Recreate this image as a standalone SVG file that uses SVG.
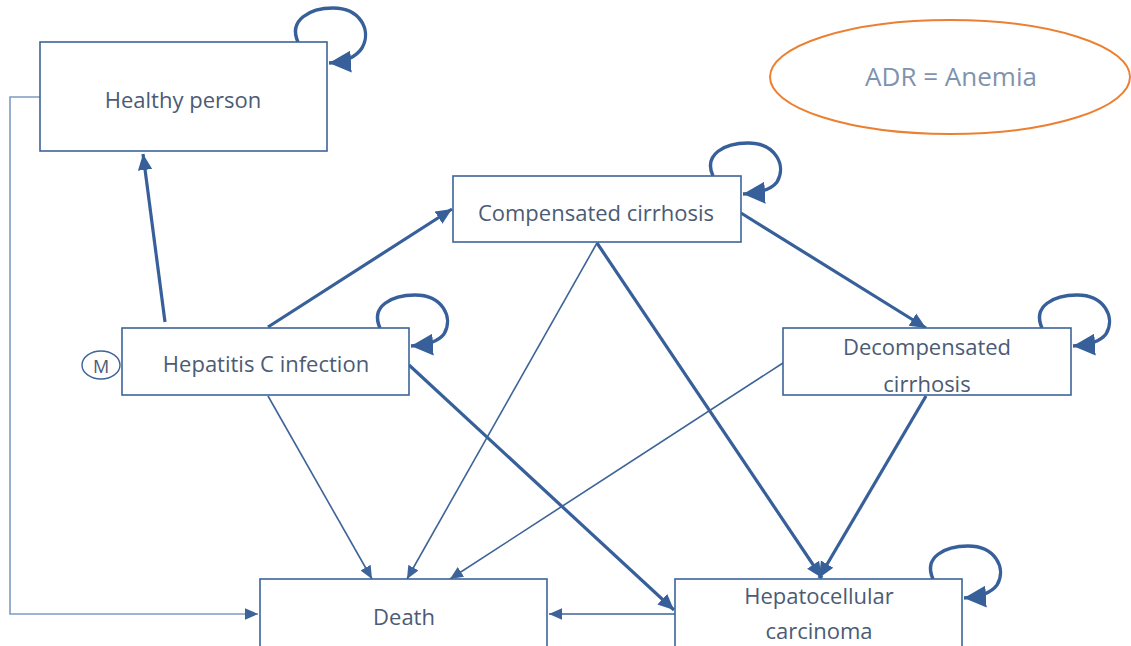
<svg xmlns="http://www.w3.org/2000/svg" width="1131" height="646" viewBox="0 0 1131 646">
<defs>
<style>
.box{fill:#fff;stroke:#3d6399;stroke-width:1.6}
.t{font-family:"Open Sans","Liberation Sans",sans-serif;font-size:22px;fill:#4b5b74;text-anchor:middle}
.thick{fill:none;stroke:#37609a;stroke-width:3.2}
.thin{fill:none;stroke:#3d6399;stroke-width:1.6}
.side{fill:none;stroke:#7f9bc0;stroke-width:1.6}
.loop{fill:none;stroke:#37609a;stroke-width:3.4}
</style>
<marker id="ah" markerUnits="userSpaceOnUse" viewBox="0 0 10 10" refX="10" refY="5" markerWidth="16" markerHeight="16" orient="auto"><path d="M0,0.5 L10,5 L0,9.5 z" fill="#37609a"/></marker>
<marker id="as" markerUnits="userSpaceOnUse" viewBox="0 0 10 10" refX="10" refY="5" markerWidth="13" markerHeight="13" orient="auto"><path d="M0,0.5 L10,5 L0,9.5 z" fill="#3d6399"/></marker>
<marker id="al" markerUnits="userSpaceOnUse" viewBox="0 0 10 10" refX="10" refY="5" markerWidth="22" markerHeight="22" orient="auto"><path d="M0,0 L10,5 L0,10 z" fill="#37609a"/></marker>
</defs>
<rect width="1131" height="646" fill="#fff"/>

<g id="connectors">
<path class="side" d="M40,97 H10 V614 H258" marker-end="url(#as)"/>
<path class="thick" d="M165,322 L143,154" marker-end="url(#ah)"/>
<path class="thick" d="M268,327 L452,209" marker-end="url(#ah)"/>
<path class="thin" d="M268,396 L372,579" marker-end="url(#as)"/>
<path class="thick" d="M409,365 L674,610" marker-end="url(#ah)"/>
<path class="thin" d="M597,243 L407,579" marker-end="url(#as)"/>
<path class="thick" d="M597,243 L822,578" marker-end="url(#ah)"/>
<path class="thick" d="M741,213 L926,328" marker-end="url(#ah)"/>
<path class="thin" d="M783,363 L450,579" marker-end="url(#as)"/>
<path class="thick" d="M926,396 L819,578" marker-end="url(#ah)"/>
<path class="thin" d="M675,614 L549,614" marker-end="url(#as)"/>
<path class="loop" d="M298,42 C288,20 310,8 333,8 C360,8 372,30 362,48 C356,57 345,62 329,63" marker-end="url(#al)"/>
<path class="loop" d="M380,328 C370,306 392,295 415,295 C442,295 454,317 444,334 C438,342 427,345 411,346" marker-end="url(#al)"/>
<path class="loop" d="M713,176 C703,154 725,143 748,143 C775,143 787,165 777,182 C771,190 760,193 743,194" marker-end="url(#al)"/>
<path class="loop" d="M1042,328 C1032,306 1054,295 1077,295 C1104,295 1116,317 1106,334 C1100,342 1089,345 1073,346" marker-end="url(#al)"/>
<path class="loop" d="M933,579 C923,557 945,546 968,546 C995,546 1007,568 997,585 C991,593 980,597 964,598" marker-end="url(#al)"/>
</g>

<g id="healthy">
<rect class="box" x="40" y="42" width="287" height="109"/>
<text class="t" x="183" y="108">Healthy person</text>
</g>
<g id="hepatitis">
<rect class="box" x="122" y="328" width="287" height="67"/>
<text class="t" x="266" y="372">Hepatitis C infection</text>
</g>
<g id="m">
<ellipse cx="101" cy="365" rx="19" ry="14" fill="#fff" stroke="#3d6399" stroke-width="1.4"/>
<text x="101" y="373" font-family="Open Sans, Liberation Sans, sans-serif" font-size="18" fill="#4b5b74" text-anchor="middle">M</text>
</g>
<g id="compensated">
<rect class="box" x="453" y="176" width="288" height="66"/>
<text class="t" x="596" y="221">Compensated cirrhosis</text>
</g>
<g id="decompensated">
<rect class="box" x="783" y="328" width="288" height="67"/>
<text class="t" x="927" y="355">Decompensated</text>
<text class="t" x="927" y="392">cirrhosis</text>
</g>
<g id="death">
<rect class="box" x="260" y="579" width="287" height="80"/>
<text class="t" x="404" y="625">Death</text>
</g>
<g id="hcc">
<rect class="box" x="675" y="579" width="287" height="80"/>
<text class="t" x="819" y="604">Hepatocellular</text>
<text class="t" x="819" y="639">carcinoma</text>
</g>
<g id="adr">
<ellipse cx="950" cy="77" rx="180" ry="57" fill="#fff" stroke="#ec8032" stroke-width="2"/>
<text x="951" y="86" font-family="Open Sans, Liberation Sans, sans-serif" font-size="26" fill="#7f93ad" text-anchor="middle">ADR = Anemia</text>
</g>
</svg>
